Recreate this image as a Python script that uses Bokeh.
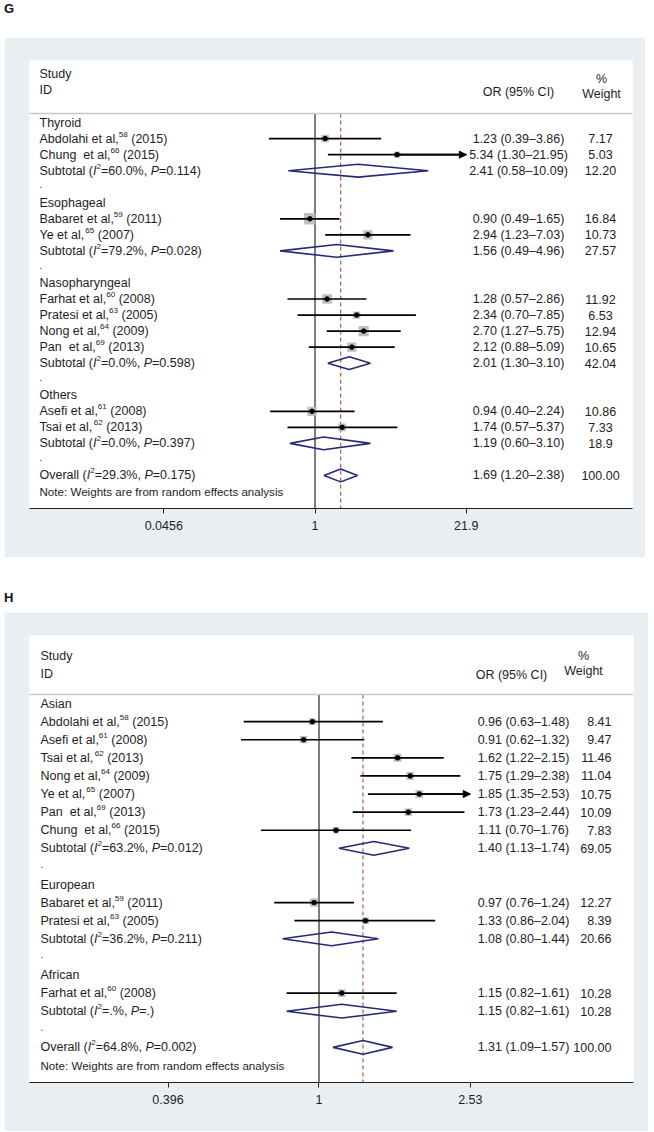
from collections import defaultdict
from bokeh.plotting import figure
from bokeh.models import (Range1d, FixedTicker, ColumnDataSource, Arrow, NormalHead,
                          Div, Span, CustomJSTickFormatter, LinearScale)
from bokeh.layouts import column
from bokeh.embed import file_html
from bokeh.resources import INLINE
from bokeh.core.properties import value

# ---------------- Panel G data ----------------
G_GROUPS = ["Thyroid", "Esophageal", "Nasopharyngeal", "Others"]
G_STUDY_GROUP = [0, 0, 1, 1, 2, 2, 2, 2, 3, 3]
G_STUDY_NAME = ["Abdolahi et al,", "Chung\u00a0 et al,", "Babaret et al,", "Ye et al,",
                "Farhat et al,", "Pratesi et al,", "Nong et al,", "Pan\u00a0 et al,",
                "Asefi et al,", "Tsai et al,"]
G_STUDY_REF = ["58", "66", "59", "65", "60", "63", "64", "69", "61", "62"]
G_STUDY_YEAR = ["2015", "2015", "2011", "2007", "2008", "2005", "2009", "2013", "2008", "2013"]
G_OR = [1.23, 5.34, 0.90, 2.94, 1.28, 2.34, 2.70, 2.12, 0.94, 1.74]
G_LO = [0.39, 1.30, 0.49, 1.23, 0.57, 0.70, 1.27, 0.88, 0.40, 0.57]
G_HI = [3.86, 21.95, 1.65, 7.03, 2.86, 7.85, 5.75, 5.09, 2.24, 5.37]
G_WEIGHT = [7.17, 5.03, 16.84, 10.73, 11.92, 6.53, 12.94, 10.65, 10.86, 7.33]
G_SUB_I2 = ["60.0", "79.2", "0.0", "0.0"]
G_SUB_P = ["0.114", "0.028", "0.598", "0.397"]
G_SUB_OR = [2.41, 1.56, 2.01, 1.19]
G_SUB_LO = [0.58, 0.49, 1.30, 0.60]
G_SUB_HI = [10.09, 4.96, 3.10, 3.10]
G_SUB_WEIGHT = ["12.20", "27.57", "42.04", "18.9"]
G_OVERALL_I2 = "29.3"
G_OVERALL_P = "0.175"
G_OVERALL_OR = 1.69
G_OVERALL_LO = 1.20
G_OVERALL_HI = 2.38
G_OVERALL_WEIGHT = "100.00"
G_TICKS = [0.0456, 1, 21.9]
G_TICK_LABELS = ["0.0456", "1", "21.9"]

# ---------------- Panel H data ----------------
H_GROUPS = ["Asian", "European", "African"]
H_STUDY_GROUP = [0, 0, 0, 0, 0, 0, 0, 1, 1, 2]
H_STUDY_NAME = ["Abdolahi et al,", "Asefi et al,", "Tsai et al,", "Nong et al,", "Ye et al,",
                "Pan\u00a0 et al,", "Chung\u00a0 et al,", "Babaret et al,", "Pratesi et al,",
                "Farhat et al,"]
H_STUDY_REF = ["58", "61", "62", "64", "65", "69", "66", "59", "63", "60"]
H_STUDY_YEAR = ["2015", "2008", "2013", "2009", "2007", "2013", "2015", "2011", "2005", "2008"]
H_OR = [0.96, 0.91, 1.62, 1.75, 1.85, 1.73, 1.11, 0.97, 1.33, 1.15]
H_LO = [0.63, 0.62, 1.22, 1.29, 1.35, 1.23, 0.70, 0.76, 0.86, 0.82]
H_HI = [1.48, 1.32, 2.15, 2.38, 2.53, 2.44, 1.76, 1.24, 2.04, 1.61]
H_WEIGHT = [8.41, 9.47, 11.46, 11.04, 10.75, 10.09, 7.83, 12.27, 8.39, 10.28]
H_SUB_I2 = ["63.2", "36.2", "."]
H_SUB_P = ["0.012", "0.211", "."]
H_SUB_OR = [1.40, 1.08, 1.15]
H_SUB_LO = [1.13, 0.80, 0.82]
H_SUB_HI = [1.74, 1.44, 1.61]
H_SUB_WEIGHT = ["69.05", "20.66", "10.28"]
H_OVERALL_I2 = "64.8"
H_OVERALL_P = "0.002"
H_OVERALL_OR = 1.31
H_OVERALL_LO = 1.09
H_OVERALL_HI = 1.57
H_OVERALL_WEIGHT = "100.00"
H_TICKS = [0.396, 1, 2.53]
H_TICK_LABELS = ["0.396", "1", "2.53"]

NOTE = "Note: Weights are from random effects analysis"

# ---------------- styles ----------------
FONT = "Liberation Sans"
BG = "#e8eef1"
TEXT = "#1e1e1e"
NAVY = "#262a72"
RED = "#a3343b"
SQUARE = "#b8b8b8"
HDR_LINE = "#c8c8c8"
SUP_RATIO = 0.65
SUP_DY = -4.5

AW = {' ': 278, '\u00a0': 278, '(': 333, ')': 333, ',': 278, '-': 333, '.': 278, ':': 278,
      '=': 584, '%': 889, '\u2013': 556}
for c in "0123456789":
    AW[c] = 556
AW.update(dict(zip("ABCDEFGHIJKLMNOPQRSTUVWXYZ",
                   [667, 667, 722, 722, 667, 611, 778, 722, 278, 500, 667, 556, 833, 722, 778,
                    667, 778, 722, 667, 611, 722, 667, 944, 667, 667, 611])))
AW.update(dict(zip("abcdefghijklmnopqrstuvwxyz",
                   [556, 556, 500, 556, 556, 278, 556, 556, 222, 222, 500, 222, 833, 556, 556,
                    556, 556, 333, 500, 278, 556, 500, 722, 500, 500, 500])))


def tw(s, size):
    return sum(AW.get(c, 556) for c in s) * size / 1000.0


def add_parts(items, x0, y, parts, size):
    x = x0
    for txt, kind in parts:
        fs = size * SUP_RATIO if kind == "s" else size
        lead = len(txt) - len(txt.lstrip(" "))
        shown = txt.strip(" ")
        if shown:
            items.append(dict(x=x + tw(" " * lead, fs), y=y, text=shown,
                              style="italic" if kind == "i" else "normal",
                              size=round(fs, 2), dy=SUP_DY if kind == "s" else 0, align="left"))
        x += tw(txt, fs)


def het_parts(prefix, i2, pv):
    return [(prefix + " (", "n"), ("I", "i"), ("2", "s"), ("=" + i2 + "%, ", "n"),
            ("P", "i"), ("=" + pv + ")", "n")]


def make_panel(L, groups, sgroup, names, refs, years, ors, los, his, ws,
               s_i2, s_p, s_or, s_lo, s_hi, s_w, a_i2, a_p, a_or, a_lo, a_hi, a_w,
               ticks, tick_labels):
    fs = L["font"]
    items = []
    st = dict(y=[], est=[], lo=[], hi=[], sq=[])
    ar = dict(y=[], xs=[], xe=[])
    dia = dict(xs=[], ys=[])

    def orw(y, est, lo, hi, wtxt):
        items.append(dict(x=L["or_x"], y=y, text=f"{est:.2f} ({lo:.2f}\u2013{hi:.2f})",
                          style="normal", size=fs, dy=0, align="center"))
        items.append(dict(x=L["w_x"], y=y, text=wtxt, style="normal", size=fs, dy=0,
                          align=L["w_align"]))

    def diamond(y, est, lo, hi):
        h = L["dia_h"]
        dia["xs"].append([lo, est, hi, est])
        dia["ys"].append([y, y - h, y, y + h])

    row = 0
    for gi, gname in enumerate(groups):
        add_parts(items, L["left_x"], row, [(gname, "n")], fs)
        row += 1
        for si, g in enumerate(sgroup):
            if g != gi:
                continue
            add_parts(items, L["left_x"], row,
                      [(names[si], "n"), (refs[si], "s"), (" (" + years[si] + ")", "n")], fs)
            st["y"].append(row); st["est"].append(ors[si]); st["lo"].append(los[si])
            st["hi"].append(his[si]); st["sq"].append(L["sq_k"] * ws[si] ** 0.5)
            if his[si] >= max(ticks):
                ar["y"].append(row); ar["xs"].append(ors[si]); ar["xe"].append(his[si])
            orw(row, ors[si], los[si], his[si], f"{ws[si]:.2f}")
            row += 1
        add_parts(items, L["left_x"], row, het_parts("Subtotal", s_i2[gi], s_p[gi]), fs)
        diamond(row, s_or[gi], s_lo[gi], s_hi[gi])
        orw(row, s_or[gi], s_lo[gi], s_hi[gi], s_w[gi])
        row += 1
        add_parts(items, L["left_x"], row - 0.15, [(".", "n")], fs * 0.8)
        row += 1
    add_parts(items, L["left_x"], row, het_parts("Overall", a_i2, a_p), fs)
    diamond(row, a_or, a_lo, a_hi)
    orw(row, a_or, a_lo, a_hi, a_w)
    row += 1
    add_parts(items, L["left_x"], row, [(NOTE, "n")], L["note_font"])

    # header texts
    items.append(dict(x=L["left_x"], y=L["h_study"], text="Study", style="normal", size=fs, dy=0, align="left"))
    items.append(dict(x=L["left_x"], y=L["h_id"], text="ID", style="normal", size=fs, dy=0, align="left"))
    items.append(dict(x=L["h_or_x"], y=L["h_or"], text="OR (95% CI)", style="normal", size=fs, dy=0, align="center"))
    items.append(dict(x=L["pct_x"], y=L["h_pct"], text="%", style="normal", size=fs, dy=0, align="center"))
    items.append(dict(x=L["pct_x"], y=L["h_w"], text="Weight", style="normal", size=fs, dy=0, align="center"))

    p = figure(frame_width=L["fw"], frame_height=L["fh"], x_axis_type="log",
               x_range=Range1d(*L["xr"]), y_range=Range1d(*L["yr"]),
               output_backend="svg", toolbar_location=None, y_axis_location=None,
               min_border_left=L["bl"], min_border_right=L["br"],
               min_border_top=L["bt"], min_border_bottom=L["bb"], margin=(0, 0, 0, 4))
    p.extra_x_ranges = {"px": Range1d(0, L["fw"])}
    p.extra_x_scales = {"px": LinearScale()}
    p.background_fill_color = "white"
    p.border_fill_color = BG
    p.outline_line_color = None
    p.grid.visible = False

    ax = p.xaxis[0]
    ax.ticker = FixedTicker(ticks=ticks)
    ax.formatter = CustomJSTickFormatter(args=dict(tv=ticks, tl=tick_labels),
                                         code="const i = tv.indexOf(tick); return i >= 0 ? tl[i] : '';")
    ax.minor_tick_line_color = None
    ax.major_tick_in = 0
    ax.major_tick_out = 5
    ax.major_label_standoff = 7
    ax.axis_line_color = "#222222"
    ax.axis_line_width = 1.2
    ax.major_tick_line_color = "#222222"
    ax.major_label_text_font = FONT
    ax.major_label_text_font_size = f"{fs}px"
    ax.major_label_text_color = TEXT

    bottom = L["yr"][0]
    p.add_layout(Span(location=L["h_line"], dimension="width", line_color=HDR_LINE, line_width=1.5))
    p.segment(x0=[1], y0=[L["h_line"]], x1=[1], y1=[bottom], line_color="#111111", line_width=1.1)
    p.segment(x0=[a_or], y0=[L["h_line"]], x1=[a_or], y1=[bottom], line_color=RED,
              line_width=1, line_dash="4 3")

    src = ColumnDataSource(st)
    p.scatter(x="est", y="y", size="sq", marker="square", source=src,
              fill_color=SQUARE, line_color=None, fill_alpha=0.9)
    p.segment(x0="lo", y0="y", x1="hi", y1="y", source=src, line_color="black", line_width=1.7)
    p.scatter(x="est", y="y", size=4.5, marker="circle", source=src,
              fill_color="black", line_color="black")
    if ar["y"]:
        p.add_layout(Arrow(end=NormalHead(size=7, fill_color="black", line_color="black"),
                           x_start="xs", y_start="y", x_end="xe", y_end="y",
                           source=ColumnDataSource(ar), line_color="black", line_width=1.7))
    p.patches(xs="xs", ys="ys", source=ColumnDataSource(dia), fill_color=None,
              line_color=NAVY, line_width=1.6)

    grouped = defaultdict(lambda: dict(x=[], y=[], text=[], dy=[]))
    for it in items:
        g = grouped[(it["style"], it["size"], it["align"])]
        g["x"].append(it["x"]); g["y"].append(it["y"]); g["text"].append(it["text"]); g["dy"].append(it["dy"])
    for (style, size, align), g in grouped.items():
        p.text(x="x", y="y", text="text", y_offset="dy", source=ColumnDataSource(g),
               x_range_name="px", text_font=value(FONT), text_font_size=value(f"{size}px"),
               text_font_style=value(style), text_align=value(align),
               text_baseline=value("middle"), text_color=TEXT)
    return p


LG = dict(fw=603, fh=448, bl=25, br=13, bt=23, bb=49,
          xr=(0.002941, 653.0), yr=(24.06, -3.87),
          font=12.5, note_font=11.6, left_x=10, or_x=489, h_or_x=489, w_x=571, w_align="center",
          pct_x=572, h_study=-3.05, h_id=-2.0, h_or=-1.93, h_pct=-2.74, h_w=-1.81,
          h_line=-0.56, dia_h=0.4, sq_k=2.8)
LH = dict(fw=604, fh=447, bl=20, br=20, bt=23, bb=49,
          xr=(0.1693, 6.886), yr=(20.94, -3.76),
          font=12.5, note_font=11.6, left_x=11, or_x=494, h_or_x=482, w_x=582, w_align="right",
          pct_x=554, h_study=-2.60, h_id=-1.66, h_or=-1.60, h_pct=-2.60, h_w=-1.82,
          h_line=-0.50, dia_h=0.38, sq_k=2.35)

pG = make_panel(LG, G_GROUPS, G_STUDY_GROUP, G_STUDY_NAME, G_STUDY_REF, G_STUDY_YEAR,
                G_OR, G_LO, G_HI, G_WEIGHT, G_SUB_I2, G_SUB_P, G_SUB_OR, G_SUB_LO, G_SUB_HI,
                G_SUB_WEIGHT, G_OVERALL_I2, G_OVERALL_P, G_OVERALL_OR, G_OVERALL_LO,
                G_OVERALL_HI, G_OVERALL_WEIGHT, G_TICKS, G_TICK_LABELS)
pH = make_panel(LH, H_GROUPS, H_STUDY_GROUP, H_STUDY_NAME, H_STUDY_REF, H_STUDY_YEAR,
                H_OR, H_LO, H_HI, H_WEIGHT, H_SUB_I2, H_SUB_P, H_SUB_OR, H_SUB_LO, H_SUB_HI,
                H_SUB_WEIGHT, H_OVERALL_I2, H_OVERALL_P, H_OVERALL_OR, H_OVERALL_LO,
                H_OVERALL_HI, H_OVERALL_WEIGHT, H_TICKS, H_TICK_LABELS)

LBL = "font:bold 13px 'Liberation Sans',Arial,sans-serif;line-height:13px;color:#111;"
dG = Div(text=f'<div style="{LBL}margin-top:2px;">G</div>', width=60, height=37, margin=(0, 0, 0, 4))
dH = Div(text=f'<div style="{LBL}margin-top:34px;">H</div>', width=60, height=55, margin=(0, 0, 0, 4))

layout = column(dG, pG, dH, pH, spacing=0)
open("out.html", "w").write(file_html(layout, INLINE))
